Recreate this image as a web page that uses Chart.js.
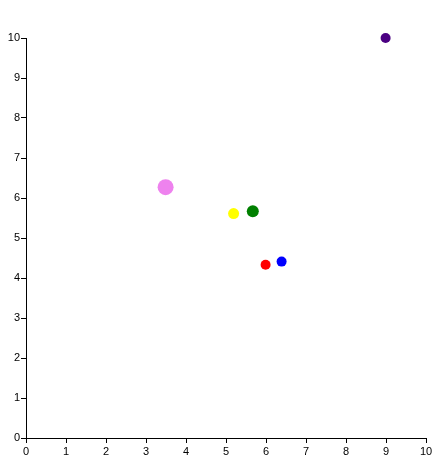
<!DOCTYPE html>
<html>
<head>
<meta charset="utf-8">
<script src="https://cdn.jsdelivr.net/npm/chart.js@4/dist/chart.umd.min.js"></script>
<style>
    html, body { margin: 0; padding: 0; background: #fff; }
    #wrap { width: 445px; height: 466px; }
</style>
</head>
<body>
<div id="wrap"><canvas id="chart"></canvas></div>
<script>
// Data
const xValues = [3.49, 5.19, 5.67, 5.99, 6.39, 8.99];
const yValues = [6.27, 5.61, 5.67, 4.33, 4.41, 10.0];
const sizeValues = [8, 5.5, 6, 5, 5, 5];
const pointColors = ['violet', 'yellow', 'green', 'red', 'blue', 'indigo'];
const tickValues = [0, 1, 2, 3, 4, 5, 6, 7, 8, 9, 10];

const points = xValues.map((x, i) => ({ x: x, y: yValues[i], r: sizeValues[i] }));

const axisStyle = {
    type: 'linear',
    min: 0,
    max: 10,
    grid: {
        display: true,
        drawOnChartArea: false,
        drawTicks: true,
        tickLength: 5,
        tickColor: '#000',
        color: '#000'
    },
    border: { display: true, color: '#000', width: 1 },
    ticks: {
        stepSize: 1,
        padding: 2,
        color: '#000',
        font: { family: 'Liberation Sans, Arial, sans-serif', size: 11 }
    },
    afterBuildTicks: axis => {
        axis.ticks = tickValues.map(v => ({ value: v }));
    }
};

new Chart(document.getElementById('chart').getContext('2d'), {
    type: 'bubble',
    data: {
        datasets: [{
            data: points,
            backgroundColor: pointColors,
            borderColor: pointColors,
            borderWidth: 0,
            hoverRadius: 0,
            clip: false
        }]
    },
    options: {
        responsive: true,
        maintainAspectRatio: false,
        animation: false,
        layout: { padding: { left: 0, right: 19, top: 38, bottom: 0 } },
        plugins: {
            legend: { display: false },
            tooltip: { enabled: false }
        },
        scales: {
            x: Object.assign({}, axisStyle, {
                position: 'bottom',
                afterFit: axis => { axis.height = 28; }
            }),
            y: Object.assign({}, axisStyle, {
                position: 'left',
                ticks: Object.assign({}, axisStyle.ticks, { padding: 1 }),
                afterFit: axis => { axis.width = 26; }
            })
        }
    }
});
</script>
</body>
</html>
